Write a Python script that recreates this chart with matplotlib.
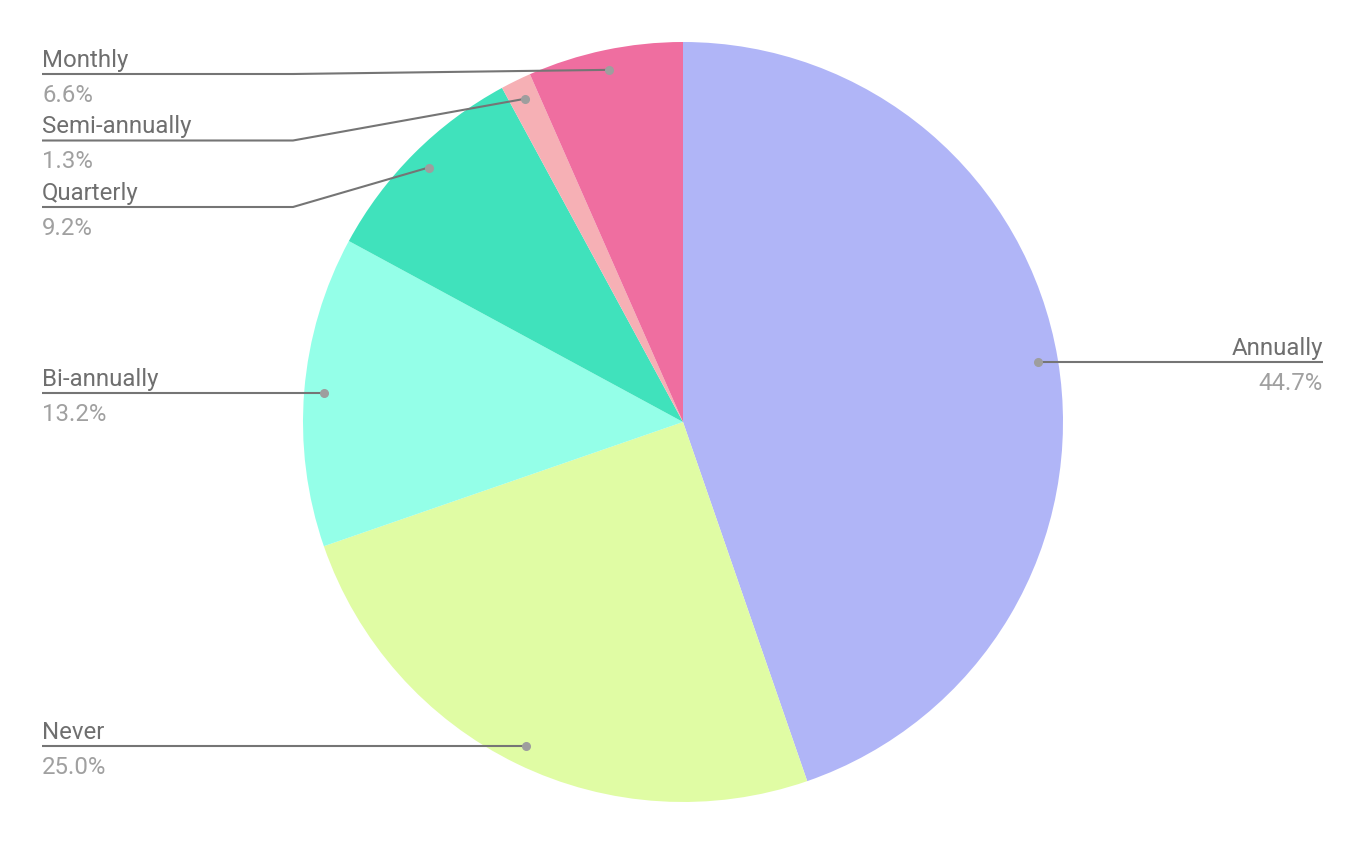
import numpy as np
import matplotlib
matplotlib.use("Agg")
import matplotlib.pyplot as plt

plt.rcParams['font.family'] = ['Roboto', 'DejaVu Sans']

categories = ["Annually", "Never", "Bi-annually", "Quarterly", "Semi-annually", "Monthly"]
shares = [44.7, 25.0, 13.2, 9.2, 1.3, 6.6]
colors = ["#b0b5f7", "#e0fca4", "#94ffe8", "#40e2bc", "#f6b0b5", "#ef6ea0"]

W, H = 1366, 844
cx, cy, radius = 683, 422, 380

fig = plt.figure(figsize=(W / 100, H / 100), dpi=100)
ax = fig.add_axes([0, 0, 1, 1])

wedges, _ = ax.pie(shares, colors=colors, startangle=90, counterclock=False,
                   center=(cx, H - cy), radius=radius, frame=True)
ax.set_xlim(0, W)
ax.set_ylim(0, H)
ax.set_aspect("equal")
ax.axis("off")

line_c = "#757575"
dot_c = "#9e9e9e"
label_c = "#6f6f6f"
pct_c = "#a0a0a0"
fs = 17.3

# anchor points inside each wedge (pixel coords, y down)
anchors = []
for w in wedges:
    mid = np.deg2rad((w.theta1 + w.theta2) / 2)
    r = radius * 0.947
    anchors.append((cx + r * np.cos(mid), cy - r * np.sin(mid)))

left_x, elbow_x, right_x = 42, 293, 1323
left = sorted([i for i, (x, y) in enumerate(anchors) if x < cx], key=lambda i: anchors[i][1])
right = [i for i, (x, y) in enumerate(anchors) if x >= cx]

# stack left labels so they don't collide
label_y = {}
prev = 74 - 66.5
for i in left:
    y = max(anchors[i][1], prev + 66.5, 74)
    label_y[i] = y
    prev = y
for i in right:
    label_y[i] = anchors[i][1]


def P(x, y):
    return x, H - y


for i in range(len(categories)):
    ax_, ay_ = anchors[i]
    ly = label_y[i]
    if ax_ < cx:
        xs = [ax_, elbow_x, left_x]
        ys = [ay_, ly, ly]
        tx, ha = left_x, "left"
    else:
        xs = [ax_, right_x]
        ys = [ay_, ly]
        tx, ha = right_x, "right"
    ax.plot(xs, [H - y for y in ys], color=line_c, lw=1.5, solid_capstyle="butt", zorder=3)
    ax.plot(ax_, H - ay_, "o", color=dot_c, ms=5.5, zorder=4)
    ax.text(*P(tx, ly - 7), categories[i], ha=ha, va="baseline", fontsize=fs, color=label_c)
    ax.text(*P(tx, ly + 28), f"{shares[i]:.1f}%", ha=ha, va="baseline", fontsize=fs, color=pct_c)

fig.savefig("out.png", dpi=100, facecolor="white")
